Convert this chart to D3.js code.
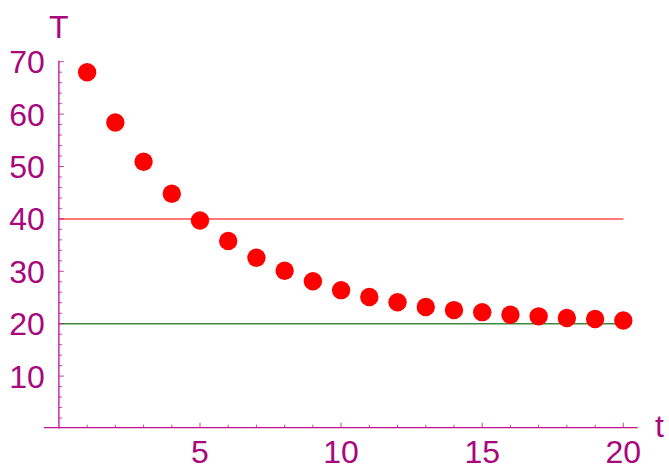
<!DOCTYPE html>
<html>
<head>
<meta charset="utf-8">
<script src="https://cdn.jsdelivr.net/npm/d3@7"></script>
<style>
  body { margin: 0; background: #fff; }
  text { font-family: "Liberation Sans", Arial, sans-serif; }
</style>
</head>
<body>
<script>
const times = d3.range(1, 21);
const temps = [68.0, 58.4, 50.9, 44.8, 39.7, 35.8, 32.6, 30.1, 28.1, 26.4,
  25.1, 24.1, 23.2, 22.6, 22.2, 21.7, 21.4, 21.1, 20.9, 20.6];
const refLines = [
  { value: 40, color: "#ff4a4a" },
  { value: 20, color: "#3f8a3f" },
];
const xTicks = [5, 10, 15, 20];
const yTicks = [10, 20, 30, 40, 50, 60, 70];

const width = 669;
const height = 470;
const axisColor = "#c0108c";
const labelColor = "#a8087c";
const fontSize = "32px";

const x = d3.scaleLinear().domain([0, 20]).range([58.9, 623.3]);
const y = d3.scaleLinear().domain([0, 70]).range([428.5, 61.7]);

const svg = d3.select("body")
  .append("svg")
  .attr("width", width)
  .attr("height", height);

// reference lines
svg.append("g")
  .selectAll("line")
  .data(refLines)
  .join("line")
  .attr("x1", x(0))
  .attr("x2", x(20))
  .attr("y1", (d) => y(d.value))
  .attr("y2", (d) => y(d.value))
  .attr("stroke", (d) => d.color)
  .attr("stroke-width", 1.5);

// x axis
const xAxis = svg.append("g").attr("transform", `translate(0,${y(0) - 0.8})`);
xAxis.append("line")
  .attr("x1", 44).attr("x2", 637.7)
  .attr("stroke", axisColor).attr("stroke-width", 1.3);
xAxis.selectAll(".minor")
  .data(d3.range(1, 21))
  .join("line")
  .attr("x1", (d) => x(d)).attr("x2", (d) => x(d))
  .attr("y1", 0).attr("y2", (d) => (d % 5 === 0 ? -5 : -3))
  .attr("stroke", axisColor).attr("stroke-width", 0.8);
xAxis.selectAll("text")
  .data(xTicks)
  .join("text")
  .attr("x", (d) => x(d))
  .attr("y", 35.5) // keep descent inside the frame
  .attr("text-anchor", "middle")
  .attr("fill", labelColor)
  .style("font-size", fontSize)
  .text((d) => d);

// y axis
const yAxis = svg.append("g").attr("transform", `translate(${x(0)},0)`);
yAxis.append("line")
  .attr("y1", y(70) - 1).attr("y2", y(0))
  .attr("stroke", axisColor).attr("stroke-width", 1.3);
yAxis.selectAll(".minor")
  .data(d3.range(2, 71, 2))
  .join("line")
  .attr("y1", (d) => y(d)).attr("y2", (d) => y(d))
  .attr("x1", 0).attr("x2", (d) => (d % 10 === 0 ? 5 : 3))
  .attr("stroke", axisColor).attr("stroke-width", 0.8);
yAxis.selectAll("text")
  .data(yTicks)
  .join("text")
  .attr("x", -14)
  .attr("y", (d) => y(d))
  .attr("dy", "0.36em")
  .attr("text-anchor", "end")
  .attr("fill", labelColor)
  .style("font-size", fontSize)
  .text((d) => d);

// axis labels
svg.append("text")
  .attr("x", 49).attr("y", 38)
  .attr("fill", labelColor)
  .style("font-size", fontSize)
  .text("T");
svg.append("text")
  .attr("x", 655).attr("y", 437)
  .attr("fill", labelColor)
  .style("font-size", fontSize)
  .text("t");

// data points
svg.append("g")
  .selectAll("circle")
  .data(times)
  .join("circle")
  .attr("cx", (d) => x(d))
  .attr("cy", (d, i) => y(temps[i]))
  .attr("r", 9.2)
  .attr("fill", "#ff0000");
</script>
</body>
</html>
